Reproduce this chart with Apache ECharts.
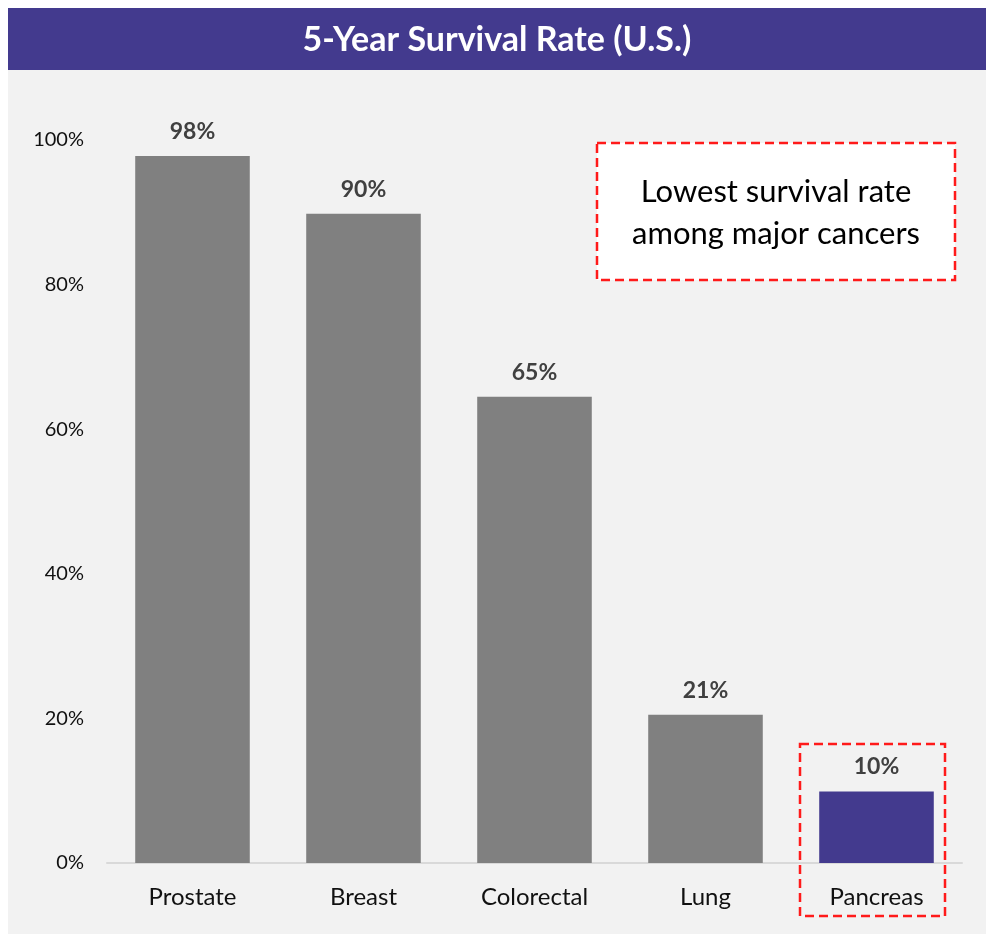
<!DOCTYPE html>
<html>
<head>
<meta charset="utf-8">
<script src="https://cdn.jsdelivr.net/npm/echarts@6/dist/echarts.min.js"></script>
<style>
  html, body { margin: 0; padding: 0; background: #fff; }
  #chart { width: 986px; height: 934px; }
</style>
</head>
<body>
<div id="chart"></div>
<script>
const categories = ['Prostate', 'Breast', 'Colorectal', 'Lung', 'Pancreas']
const survivalRates = [97.8, 89.8, 64.5, 20.5, 9.9]
const yTicks = [0, 20, 40, 60, 80, 100]
const highlightName = 'Pancreas'
const noteLines = ['Lowest survival rate', 'among major cancers']

const PURPLE = '#433a8e'
const GREY_BAR = '#808080'
const FONT = 'Lato, "Open Sans", sans-serif'

const chart = echarts.init(document.getElementById('chart'))

const option = {
  backgroundColor: '#ffffff',
  animation: false,
  grid: { left: 107, right: 24, top: 140, bottom: 71 },
  xAxis: {
    type: 'category',
    data: categories,
    axisLine: { lineStyle: { color: '#d9d9d9', width: 2 } },
    axisTick: { show: false },
    axisLabel: { color: '#111', fontSize: 24, fontFamily: FONT, margin: 22 }
  },
  yAxis: {
    type: 'value',
    min: yTicks[0],
    max: yTicks[yTicks.length - 1],
    interval: 20,
    splitLine: { show: false },
    axisLine: { show: false },
    axisTick: { show: false },
    axisLabel: { color: '#111', fontSize: 20, fontFamily: FONT, margin: 23, formatter: v => v + '%' }
  },
  series: [{
    type: 'bar',
    barCategoryGap: '33%',
    data: survivalRates.map((v, i) => ({
      value: v,
      itemStyle: { color: categories[i] === highlightName ? PURPLE : GREY_BAR }
    })),
    label: {
      show: true,
      position: 'top',
      distance: 13,
      color: '#404040',
      fontWeight: 'bold',
      fontSize: 23,
      fontFamily: FONT,
      formatter: p => Math.round(p.value) + '%'
    }
  }],
  graphic: [
    // light panel + title bar
    { type: 'rect', z: -10, shape: { x: 8, y: 8, width: 978, height: 926 }, style: { fill: '#f2f2f2' } },
    { type: 'rect', z: -9, shape: { x: 8, y: 8, width: 978, height: 62 }, style: { fill: PURPLE } },
    {
      type: 'text', z: 2, x: 497, y: 40,
      style: {
        text: '5-Year Survival Rate (U.S.)', fill: '#fff', font: 'bold 34px ' + FONT,
        align: 'center', verticalAlign: 'middle'
      }
    },
    // callout box
    {
      type: 'rect', z: 5,
      shape: { x: 597, y: 143, width: 358, height: 137 },
      style: { fill: '#fff', stroke: '#ff1a1a', lineWidth: 2.5, lineDash: [9, 5] }
    },
    {
      type: 'text', z: 6, x: 776, y: 213,
      style: {
        text: noteLines.join('\n'), fill: '#000', font: '31px ' + FONT,
        align: 'center', verticalAlign: 'middle', lineHeight: 42
      }
    },
    // highlight around pancreas
    {
      type: 'rect', z: 5,
      shape: { x: 800, y: 744, width: 145, height: 172 },
      style: { fill: 'none', stroke: '#ff1a1a', lineWidth: 2.5, lineDash: [9, 5] }
    }
  ]
}

chart.setOption(option)
</script>
</body>
</html>
